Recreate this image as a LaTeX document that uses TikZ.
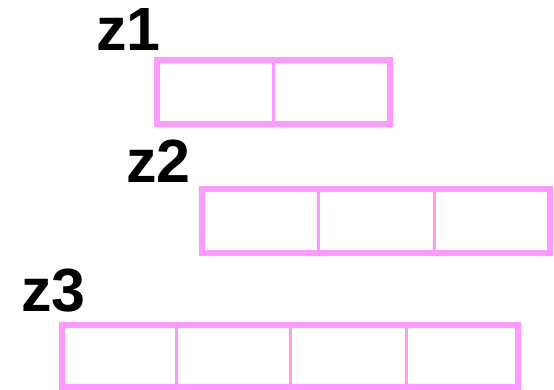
\documentclass[tikz,border=0pt]{standalone}
\usepackage{fontspec}
\setmainfont{Liberation Sans}
\definecolor{boxpink}{RGB}{255,153,255}
\begin{document}
\begin{tikzpicture}[x=1pt,y=-1pt,
  cell/.style={draw=boxpink, line width=3pt, minimum width=#1, minimum height=64pt, inner sep=0pt, outer sep=0pt},
  outerbox/.style={draw=boxpink, line width=6pt},
  lbl/.style={anchor=base west, inner sep=0pt, font=\bfseries\fontsize{61}{63}\selectfont}]
\useasboundingbox (0,0) rectangle (554,390);
% z1
\node[lbl] (l1) at (96,51) {z1};
\node[cell=116pt] (z1a) at (215,92) {};
\node[cell=117pt] (z1b) at (331.5,92) {};
\draw[outerbox] (z1a.north west) rectangle (z1b.south east);
% z2
\node[lbl] (l2) at (126,183) {z2};
\node[cell=116pt] (z2a) at (260,221) {};
\node[cell=116pt] (z2b) at (376,221) {};
\node[cell=116pt] (z2c) at (492,221) {};
\draw[outerbox] (z2a.north west) rectangle (z2c.south east);
% z3
\node[lbl] (l3) at (21,311) {z3};
\node[cell=114pt, minimum height=62pt] (z3a) at (119,356) {};
\node[cell=114pt, minimum height=62pt] (z3b) at (233,356) {};
\node[cell=116pt, minimum height=62pt] (z3c) at (348,356) {};
\node[cell=112pt, minimum height=62pt] (z3d) at (462,356) {};
\draw[outerbox] (z3a.north west) rectangle (z3d.south east);
\end{tikzpicture}
\end{document}
